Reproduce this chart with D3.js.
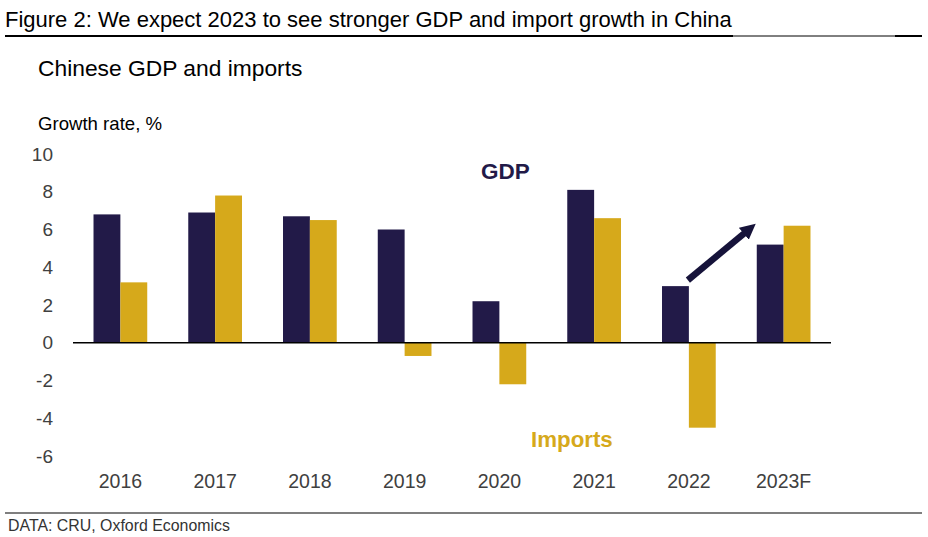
<!DOCTYPE html>
<html>
<head>
<meta charset="utf-8">
<script src="https://cdn.jsdelivr.net/npm/d3@7"></script>
<style>
  html, body { margin: 0; padding: 0; background: #fff; }
  svg { display: block; font-family: "Liberation Sans", Arial, sans-serif; }
</style>
</head>
<body>
<svg id="chart" width="928" height="537"></svg>
<script>
const categories = ["2016", "2017", "2018", "2019", "2020", "2021", "2022", "2023F"];
const gdpValues = [6.8, 6.9, 6.7, 6.0, 2.2, 8.1, 3.0, 5.2];
const importValues = [3.2, 7.8, 6.5, -0.7, -2.2, 6.6, -4.5, 6.2];
const yTicks = [10, 8, 6, 4, 2, 0, -2, -4, -6];
const seriesNames = ["GDP", "Imports"];

const titleText = "Figure 2: We expect 2023 to see stronger GDP and import growth in China";
const subtitleText = "Chinese GDP and imports";
const axisTitle = "Growth rate, %";
const sourceText = "DATA: CRU, Oxford Economics";

const navy = "#221a48";
const gold = "#d6a91b";
const arrowColor = "#16133a";

const svg = d3.select("#chart");

// Title and rules
svg.append("text").attr("x", 5).attr("y", 27)
  .attr("font-size", 22).attr("fill", "#000").text(titleText);
svg.append("line").attr("x1", 5).attr("x2", 922).attr("y1", 36).attr("y2", 36)
  .attr("stroke", "#000").attr("stroke-width", 1);
svg.append("line").attr("x1", 5).attr("x2", 733).attr("y1", 36).attr("y2", 36)
  .attr("stroke", "#000").attr("stroke-width", 2);
svg.append("line").attr("x1", 895).attr("x2", 922).attr("y1", 36).attr("y2", 36)
  .attr("stroke", "#000").attr("stroke-width", 2);

svg.append("text").attr("x", 38).attr("y", 76)
  .attr("font-size", 22.8).attr("fill", "#000").text(subtitleText);
svg.append("text").attr("x", 38).attr("y", 130)
  .attr("font-size", 18.6).attr("fill", "#000").text(axisTitle);

// Scales
const x0 = d3.scaleBand().domain(categories).range([73, 831])
  .paddingInner(0.433).paddingOuter(0.2165);
const x1 = d3.scaleBand().domain(seriesNames).range([0, x0.bandwidth()]).padding(0);
const y = d3.scaleLinear().domain([-6, 10]).range([456, 154]);

// Y axis labels
const yAxis = d3.axisLeft(y).tickValues(yTicks).tickSize(0).tickPadding(20).tickFormat(d => String(d));
const yg = svg.append("g").attr("transform", "translate(73,0)").call(yAxis);
yg.select(".domain").remove();
yg.selectAll("text").attr("font-size", 19).attr("fill", "#404040")
  .attr("font-family", "Liberation Sans, Arial, sans-serif");

// Bars
const data = categories.map((c, i) => ({ cat: c, values: [
  { key: "GDP", v: gdpValues[i] }, { key: "Imports", v: importValues[i] }] }));

const groups = svg.append("g").selectAll("g").data(data).join("g")
  .attr("transform", d => `translate(${x0(d.cat)},0)`);
groups.selectAll("rect").data(d => d.values).join("rect")
  .attr("x", d => x1(d.key))
  .attr("width", x1.bandwidth())
  .attr("y", d => y(Math.max(0, d.v)))
  .attr("height", d => Math.abs(y(d.v) - y(0)))
  .attr("fill", d => d.key === "GDP" ? navy : gold);

// Zero line
svg.append("line").attr("x1", 73).attr("x2", 831).attr("y1", y(0)).attr("y2", y(0))
  .attr("stroke", "#000").attr("stroke-width", 1.5);

// X axis labels
const xAxis = d3.axisBottom(x0).tickSize(0).tickPadding(0);
const xg = svg.append("g").call(xAxis);
xg.select(".domain").remove();
xg.selectAll("text").attr("y", 488).attr("dy", null).attr("font-size", 19.5).attr("fill", "#404040")
  .attr("font-family", "Liberation Sans, Arial, sans-serif");

// Series labels
svg.append("text").attr("x", 481).attr("y", 179).attr("font-size", 22.5)
  .attr("font-weight", "bold").attr("fill", navy).text(seriesNames[0]);
svg.append("text").attr("x", 531).attr("y", 447).attr("font-size", 22.3)
  .attr("font-weight", "bold").attr("fill", gold).text(seriesNames[1]);

// Arrow from 2022 GDP towards 2023F
const defs = svg.append("defs");
defs.append("marker").attr("id", "ah").attr("viewBox", "0 0 10 10")
  .attr("refX", 5).attr("refY", 5).attr("markerWidth", 2.4).attr("markerHeight", 2.4)
  .attr("orient", "auto")
  .append("path").attr("d", "M0,0 L10,5 L0,10 Z").attr("fill", arrowColor);
const aStart = [x0("2022") + x1.bandwidth() - 1, y(gdpValues[6]) - 6];
const aEnd = [x0("2023F") - 7, y(6.2) + 3];
svg.append("line").attr("x1", aStart[0]).attr("y1", aStart[1])
  .attr("x2", aEnd[0]).attr("y2", aEnd[1])
  .attr("stroke", arrowColor).attr("stroke-width", 6.5)
  .attr("marker-end", "url(#ah)");

// Footer
svg.append("line").attr("x1", 5).attr("x2", 922).attr("y1", 513).attr("y2", 513)
  .attr("stroke", "#000").attr("stroke-width", 1.2);
svg.append("text").attr("x", 8).attr("y", 531).attr("font-size", 15.9)
  .attr("fill", "#333").text(sourceText);
</script>
</body>
</html>
